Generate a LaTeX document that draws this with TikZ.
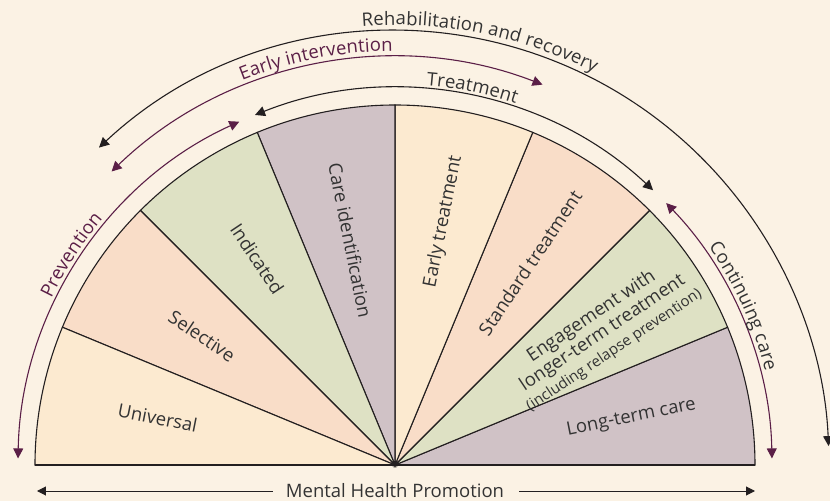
\documentclass[tikz,border=0pt]{standalone}
\usepackage{fontspec}
\setmainfont{Open Sans}
\usetikzlibrary{arrows.meta,decorations.text}

\definecolor{bgcol}{HTML}{FBF2E4}
\definecolor{cream}{HTML}{FCEAD0}
\definecolor{peach}{HTML}{F9DDC8}
\definecolor{sage}{HTML}{DEE1C4}
\definecolor{mauve}{HTML}{D0C2C6}
\definecolor{plum}{HTML}{5B1F47}
\definecolor{ink}{HTML}{231F20}
\definecolor{txtgrey}{HTML}{333333}

\newcommand{\lblfont}{\fontsize{18.5}{20}\selectfont}
\newcommand{\smallfont}{\fontsize{15}{16}\selectfont}

\begin{document}
\begin{tikzpicture}[x=1pt,y=1pt,
    sector/.style={draw=ink,line width=1.1pt},
    ring/.style={line width=1.1pt,{Triangle[length=10pt,width=10pt]}-{Triangle[length=10pt,width=10pt]}},
    lbl/.style={text=txtgrey,font=\lblfont,inner sep=0pt}]

  \fill[bgcol] (-395,-36) rectangle (435,465);
  \useasboundingbox (-395,-36) rectangle (435,465);

  \foreach \i/\col in {0/mauve,1/sage,2/peach,3/cream,4/mauve,5/sage,6/peach,7/cream}
    \filldraw[sector,fill=\col] (0,0) -- (\i*22.5:360)
      arc[start angle=\i*22.5,end angle=\i*22.5+22.5,radius=360] -- cycle;
  \draw[ink,line width=1.4pt] (180:360) -- (0:360);

  \begin{scope}[every node/.style={lbl}]
    \node[rotate=-11.25] (univ) at (168.75:242) {Universal};
    \node[rotate=-33.75] (sel) at (146.25:232) {Selective};
    \node[rotate=-56.25] (ind) at (123.75:248) {Indicated};
    \node[rotate=-78.75] (careid) at (101.25:229) {Care identification};
    \node[rotate=78.75] (early) at (78.75:248) {Early treatment};
    \node[rotate=56.25] (std) at (56.25:243) {Standard treatment};
    \node[rotate=33.75,align=center] (engage) at (32.5:246)
      {Engagement with\\longer-term treatment\\{\smallfont(including relapse prevention)}};
    \node[rotate=11.25] (longterm) at (11.25:241) {Long-term care};
  \end{scope}

  \draw[ring,ink] (133:434) arc[start angle=133,end angle=2.5,radius=434];
  \draw[ring,plum] (134:408) arc[start angle=134,end angle=68.8,radius=408];
  \draw[ring,ink] (111.8:377) arc[start angle=111.8,end angle=46.8,radius=377];
  \draw[ring,plum] (114.4:377) arc[start angle=114.4,end angle=179,radius=377];
  \draw[ring,plum] (44:377) arc[start angle=44,end angle=1,radius=377];

  \path[decorate,decoration={text along path,text align=center,raise=6pt,
      text={|\lblfont\color{txtgrey}|Rehabilitation and recovery}}]
    (108.7:434) arc[start angle=108.7,end angle=48.7,radius=434];
  \path[decorate,decoration={text along path,text align=center,raise=6pt,
      text={|\lblfont\color{plum}|Early intervention}}]
    (126:408) arc[start angle=126,end angle=76,radius=408];
  \path[decorate,decoration={text along path,text align=center,raise=4pt,
      text={|\lblfont\color{txtgrey}|Treatment}}]
    (98.4:377) arc[start angle=98.4,end angle=58.4,radius=377];
  \path[decorate,decoration={text along path,text align=center,raise=5pt,
      text={|\lblfont\color{plum}|Prevention}}]
    (167:377) arc[start angle=167,end angle=127,radius=377];
  \path[decorate,decoration={text along path,text align=center,raise=5pt,
      text={|\lblfont\color{txtgrey}|Continuing care}}]
    (44.5:377) arc[start angle=44.5,end angle=4.5,radius=377];

  \node[lbl] (mhp) at (0,-26) {Mental Health Promotion};
  \coordinate (mhpL) at (-358,-26);
  \coordinate (mhpR) at (360,-26);
  \draw[ink,line width=1pt,shorten <=13pt,-{Triangle[length=9pt,width=9pt]}] (mhp.west) -- (mhpL);
  \draw[ink,line width=1pt,shorten <=15pt,-{Triangle[length=9pt,width=9pt]}] (mhp.east) -- (mhpR);

\end{tikzpicture}
\end{document}
